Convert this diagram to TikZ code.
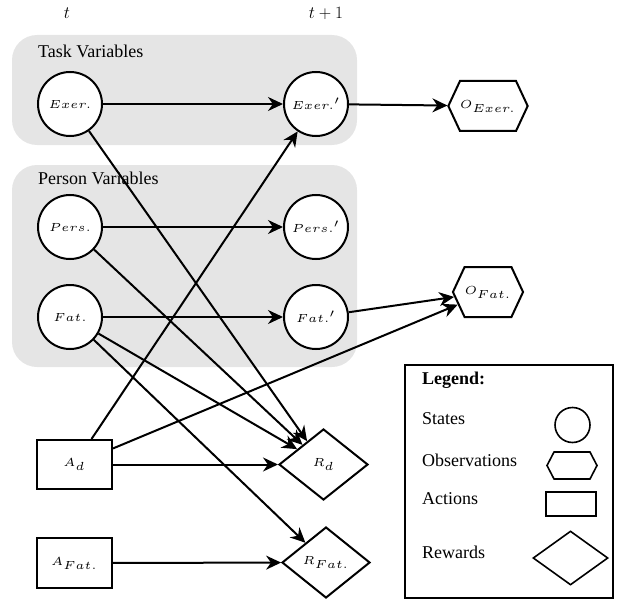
\documentclass[tikz,border=0pt]{standalone}
\usepackage{fontspec}
\setmainfont{Liberation Serif}
\usepackage{graphicx}
\usetikzlibrary{shapes.geometric,shapes.symbols,arrows.meta}
% small math labels set in the 5pt design size, enlarged
\newcommand\nlbl[1]{\scalebox{2.35}{\tiny$#1$}}

\begin{document}
\begin{tikzpicture}[x=1pt,y=-1pt,
  every node/.style={font=\fontsize{18}{21}\selectfont},
  state/.style={circle,draw,line width=2pt,fill=white,minimum size=64pt,inner sep=0pt},
  obs/.style={signal,signal to=east and west,signal pointer angle=130,draw,line width=2pt,fill=white,inner sep=0pt},
  act/.style={rectangle,draw,line width=2pt,fill=white,inner sep=0pt},
  rew/.style={diamond,draw,line width=2pt,fill=white,inner sep=0pt},
  varbox/.style={fill=black!10,rounded corners=25pt},
  link/.style={line width=2pt,-{Stealth[length=15pt,width=14pt]}},
  legtext/.style={anchor=west,inner sep=0pt},
  ]
\useasboundingbox (0,0) rectangle (618,599);

% variable groups
\fill[varbox] (12,35) rectangle (357,145);
\fill[varbox] (12,165) rectangle (357,367);
\node[legtext] (tasklbl) at (38,51) {Task Variables};
\node[legtext] (perslbl) at (38,178) {Person Variables};

% time labels
\node (tnow) at (67,13) {$t$};
\node (tnext) at (326,13) {$t+1$};

% states
\node[state] (exer) at (70,104) {\nlbl{Exer.}};
\node[state] (pers) at (70,227) {\nlbl{Pers.}};
\node[state] (fat) at (70,317) {\nlbl{Fat.}};
\node[state] (exer2) at (316,104) {\nlbl{Exer.'}};
\node[state] (pers2) at (316,227) {\nlbl{Pers.'}};
\node[state] (fat2) at (316,317) {\nlbl{Fat.'}};

% observations
\node[obs,minimum width=73pt,minimum height=50pt] (oexer) at (488,106) {\nlbl{O_{Exer.}}};
\node[obs,minimum width=68pt,minimum height=50pt] (ofat) at (488,292) {\nlbl{O_{Fat.}}};

% actions
\node[act,minimum width=75pt,minimum height=49pt] (ad) at (74.5,464.5) {\nlbl{A_d}};
\node[act,minimum width=75pt,minimum height=50pt] (afat) at (74.5,563) {\nlbl{A_{Fat.}}};

% rewards
\node[rew,minimum width=89pt,minimum height=71pt] (rd) at (323.5,464.5) {\nlbl{R_d}};
\node[rew,minimum width=88pt,minimum height=71pt] (rfat) at (326,562.5) {\nlbl{R_{Fat.}}};

% dependencies
\draw[link] (exer) -- (exer2);
\draw[link] (pers) -- (pers2);
\draw[link] (fat) -- (fat2);
\draw[link] (exer2) -- (oexer);
\draw[link] (fat2) -- (ofat);
\draw[link] (ad) -- (exer2);
\draw[link] (ad) -- (ofat);
\draw[link] (ad) -- (rd);
\draw[link] (exer) -- (rd);
\draw[link] (pers) -- (rd);
\draw[link] (fat) -- (rd);
\draw[link] (fat) -- (rfat);
\draw[link] (afat) -- (rfat);

% legend
\draw[line width=2pt] (405,365) rectangle (613,598);
\node[legtext] (leghead) at (422,380) {\textbf{Legend:}};
\node[legtext] (legstates) at (422,419) {States};
\node[legtext] (legobs) at (422,460) {Observations};
\node[legtext] (legact) at (422,499) {Actions};
\node[legtext] (legrew) at (422,552) {Rewards};
\node[circle,draw,line width=1.6pt,minimum size=35pt,inner sep=0pt] (legcirc) at (572.5,425) {};
\node[signal,signal to=east and west,signal pointer angle=125,draw,line width=1.6pt,minimum width=50pt,minimum height=27pt,inner sep=0pt] (leghex) at (572,465.5) {};
\node[rectangle,draw,line width=1.6pt,minimum width=50pt,minimum height=24pt,inner sep=0pt] (legrect) at (571,504) {};
\node[diamond,draw,line width=1.6pt,minimum width=75pt,minimum height=54pt,inner sep=0pt] (legdia) at (570.5,558) {};
\end{tikzpicture}
\end{document}
